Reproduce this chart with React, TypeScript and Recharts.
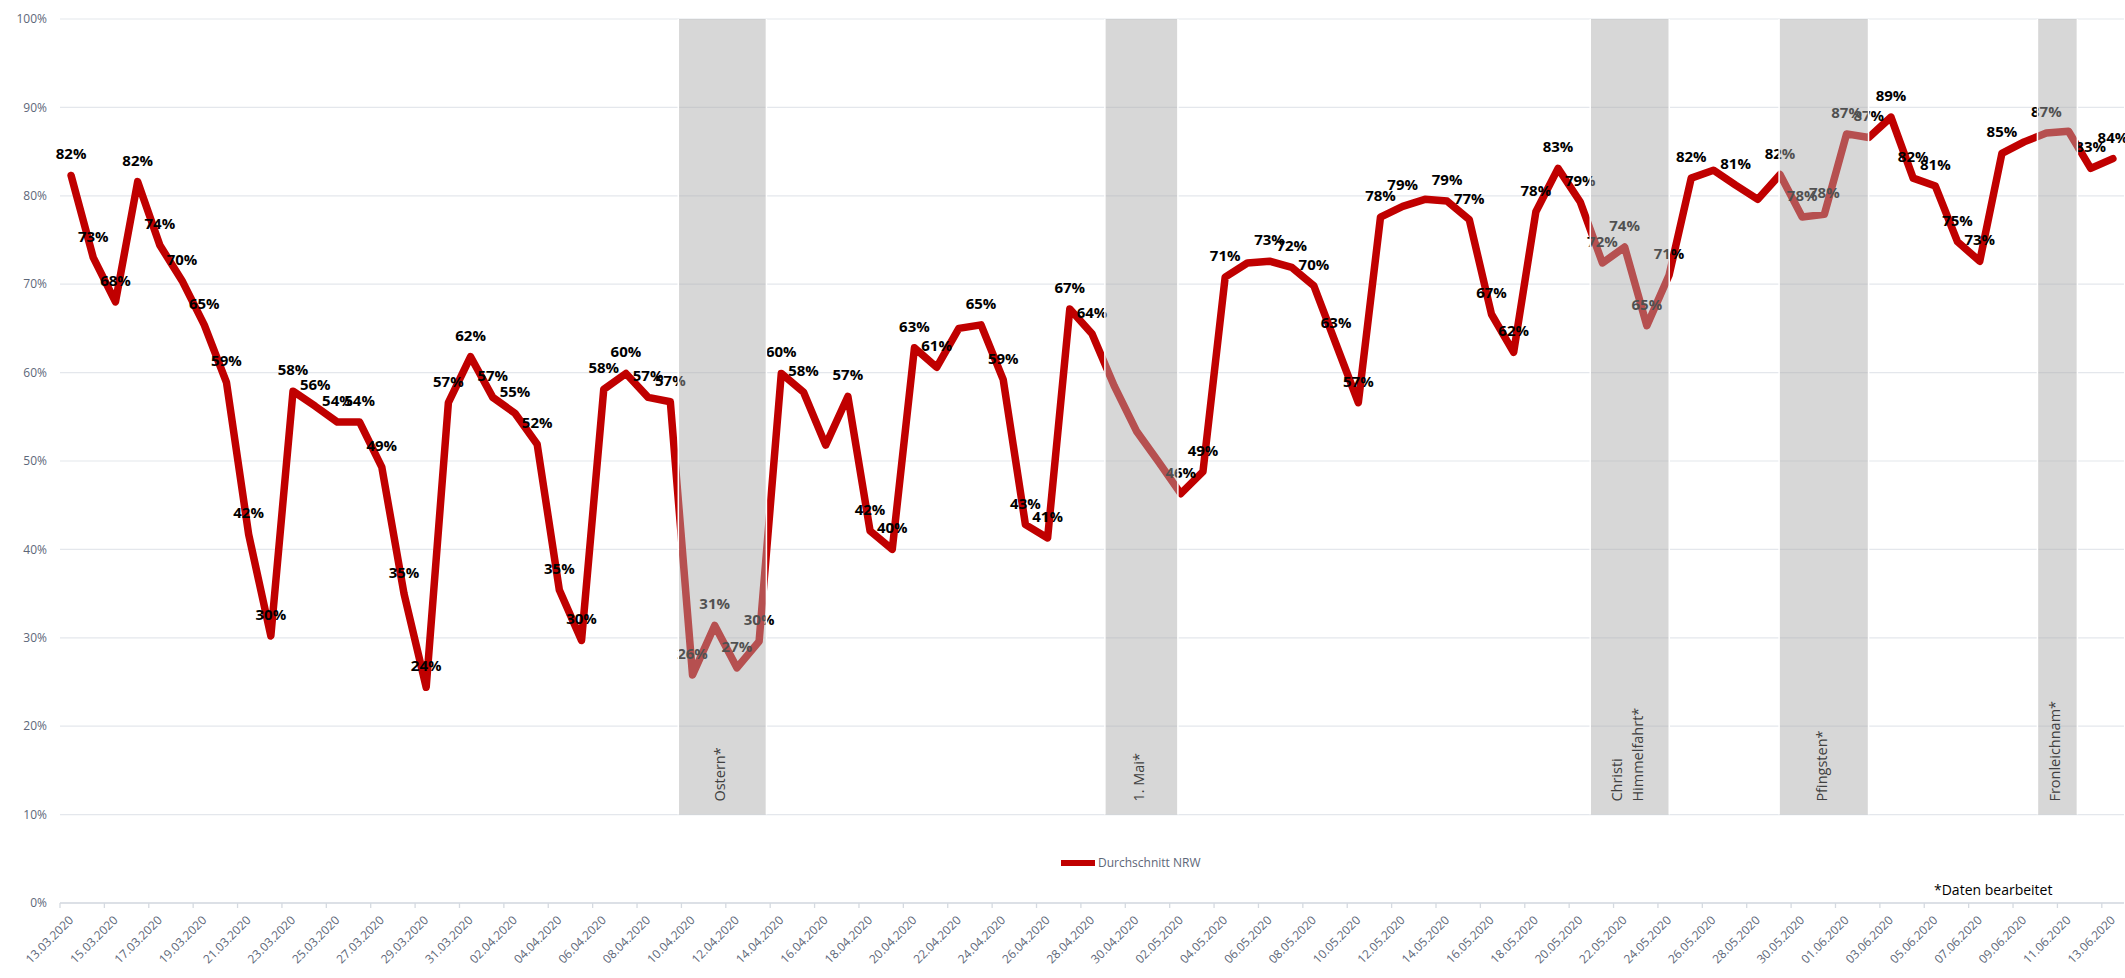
import React from "react";
import {
  CartesianGrid,
  ComposedChart,
  LabelList,
  Line,
  ReferenceArea,
  XAxis,
  YAxis,
} from "recharts";

// one value per day, 13.03.2020 - 13.06.2020
const dates = [
  "13.03.2020", "14.03.2020", "15.03.2020", "16.03.2020", "17.03.2020", "18.03.2020", "19.03.2020",
  "20.03.2020", "21.03.2020", "22.03.2020", "23.03.2020", "24.03.2020", "25.03.2020", "26.03.2020",
  "27.03.2020", "28.03.2020", "29.03.2020", "30.03.2020", "31.03.2020", "01.04.2020", "02.04.2020",
  "03.04.2020", "04.04.2020", "05.04.2020", "06.04.2020", "07.04.2020", "08.04.2020", "09.04.2020",
  "10.04.2020", "11.04.2020", "12.04.2020", "13.04.2020", "14.04.2020", "15.04.2020", "16.04.2020",
  "17.04.2020", "18.04.2020", "19.04.2020", "20.04.2020", "21.04.2020", "22.04.2020", "23.04.2020",
  "24.04.2020", "25.04.2020", "26.04.2020", "27.04.2020", "28.04.2020", "29.04.2020", "30.04.2020",
  "01.05.2020", "02.05.2020", "03.05.2020", "04.05.2020", "05.05.2020", "06.05.2020", "07.05.2020",
  "08.05.2020", "09.05.2020", "10.05.2020", "11.05.2020", "12.05.2020", "13.05.2020", "14.05.2020",
  "15.05.2020", "16.05.2020", "17.05.2020", "18.05.2020", "19.05.2020", "20.05.2020", "21.05.2020",
  "22.05.2020", "23.05.2020", "24.05.2020", "25.05.2020", "26.05.2020", "27.05.2020", "28.05.2020",
  "29.05.2020", "30.05.2020", "31.05.2020", "01.06.2020", "02.06.2020", "03.06.2020", "04.06.2020",
  "05.06.2020", "06.06.2020", "07.06.2020", "08.06.2020", "09.06.2020", "10.06.2020", "11.06.2020",
  "12.06.2020", "13.06.2020",
];

// Durchschnitt NRW, in %
const nrwAverage = [
  82.3, 73.0, 68.0, 81.6, 74.4, 70.4, 65.4, 58.9, 41.7, 30.2,
  57.9, 56.2, 54.4, 54.4, 49.3, 35.0, 24.4, 56.6, 61.8, 57.2,
  55.4, 51.9, 35.4, 29.7, 58.1, 59.9, 57.2, 56.7, 25.8, 31.4,
  26.6, 29.6, 59.9, 57.8, 51.8, 57.3, 42.1, 40.0, 62.8, 60.6,
  65.0, 65.4, 59.2, 42.8, 41.3, 67.2, 64.4, 58.5, 53.4, 49.9,
  46.3, 48.8, 70.8, 72.4, 72.6, 71.9, 69.8, 63.2, 56.6, 77.6,
  78.8, 79.6, 79.4, 77.3, 66.6, 62.3, 78.2, 83.1, 79.3, 72.4,
  74.2, 65.3, 71.0, 82.0, 82.9, 81.2, 79.6, 82.4, 77.6, 77.9,
  87.0, 86.6, 88.9, 82.0, 81.1, 74.8, 72.6, 84.8, 86.1, 87.1,
  87.3, 83.1, 84.2,
];

// days whose data label is not shown in the original
const unlabeledDays = [34, 40, 47, 48, 49, 53, 61, 74, 76, 88, 90];

// every second date gets a tick label
const dateTicks = [
  0, 2, 4, 6, 8, 10, 12, 14, 16, 18, 20, 22, 24, 26, 28, 30, 32, 34, 36, 38, 40, 42, 44, 46,
  48, 50, 52, 54, 56, 58, 60, 62, 64, 66, 68, 70, 72, 74, 76, 78, 80, 82, 84, 86, 88, 90, 92,
];

const percentTicks = [0, 10, 20, 30, 40, 50, 60, 70, 80, 90, 100];

// shaded holiday periods (x in day index units)
const holidays = [
  { lines: ["Ostern*"], from: 27.36, to: 31.33 },
  { lines: ["1. Mai*"], from: 46.58, to: 49.87 },
  { lines: ["Christi", "Himmelfahrt*"], from: 68.45, to: 72.01 },
  { lines: ["Pfingsten*"], from: 76.96, to: 80.99 },
  { lines: ["Fronleichnam*"], from: 88.6, to: 90.4 },
];

const W = 2125;
const H = 978;
const Y_AXIS_W = 60;
const RIGHT = 1;
const TOP = 19;
const X_AXIS_H = 75;
const STEP = (W - Y_AXIS_W - RIGHT) / dates.length;

const FONT = "'Open Sans', 'Noto Sans', sans-serif";
const AXIS_TEXT = "#5D6779";
const RED = "#C00000";

const chartData = dates.map((date, i) => ({ i, date, v: nrwAverage[i] }));

const DateTick = (props: any) => {
  const { x, y, payload } = props;
  const tx = x - STEP / 2;
  return (
    <g>
      <line x1={tx} x2={tx} y1={y} y2={y + 5} stroke="#D5DAE1" strokeWidth={1.3} />
      <text
        transform={`translate(${x + 3},${y + 18}) rotate(-45)`}
        textAnchor="end"
        fontSize={12}
        fontFamily={FONT}
        fill={AXIS_TEXT}
      >
        {dates[payload.value]}
      </text>
    </g>
  );
};

const ValueLabel = (props: any) => {
  const { x, y, value, index } = props;
  if (unlabeledDays.includes(index)) return null;
  return (
    <text
      x={x}
      y={y - 16}
      textAnchor="middle"
      fontSize={15}
      fontWeight={700}
      fontFamily={FONT}
      fill="#000"
    >
      {`${Math.round(value)}%`}
    </text>
  );
};

const HolidayShape = (props: any) => {
  const { x, y, width, height, lines } = props;
  const cx = x + width / 2;
  const bottom = y + height;
  return (
    <g>
      <rect x={x} y={y} width={width} height={height} fill="#AAAAAA" fillOpacity={0.47} />
      <line x1={x} x2={x} y1={y} y2={bottom} stroke="#fff" strokeWidth={1.5} />
      <line x1={x + width} x2={x + width} y1={y} y2={bottom} stroke="#fff" strokeWidth={1.5} />
      {lines.map((t: string, k: number) => {
        const bx = cx + 3 + (k - (lines.length - 1) / 2) * 21;
        return (
          <text
            key={t}
            transform={`translate(${bx},${bottom - 13}) rotate(-90)`}
            textAnchor="start"
            fontSize={14.5}
            fontFamily={FONT}
            fill="#404040"
          >
            {t}
          </text>
        );
      })}
    </g>
  );
};

export default function App() {
  return (
    <div
      style={{
        position: "absolute",
        left: 0,
        top: 0,
        width: W,
        height: H,
        background: "#fff",
        fontFamily: FONT,
      }}
    >
      <div style={{ position: "absolute", left: 0, top: 0 }}>
        <ComposedChart
          width={W}
          height={H}
          data={chartData}
          margin={{ top: TOP, right: RIGHT, left: 0, bottom: 0 }}
        >
          <CartesianGrid vertical={false} stroke="#E4E7EC" strokeWidth={1.2} />
          <XAxis
            dataKey="i"
            type="number"
            domain={[-0.5, dates.length - 0.5]}
            ticks={dateTicks}
            interval={0}
            height={X_AXIS_H}
            tickSize={0}
            tickMargin={0}
            axisLine={{ stroke: "#D5DAE1", strokeWidth: 1.3 }}
            tickLine={false}
            tick={<DateTick />}
          />
          <YAxis
            type="number"
            domain={[0, 100]}
            ticks={percentTicks}
            width={Y_AXIS_W}
            axisLine={false}
            tickLine={false}
            tickSize={0}
            tickMargin={13}
            tickFormatter={(v: number) => `${v}%`}
            tick={{ fontSize: 12, fill: AXIS_TEXT, fontFamily: FONT }}
          />
          <Line
            dataKey="v"
            type="linear"
            stroke={RED}
            strokeWidth={7.5}
            strokeLinejoin="round"
            strokeLinecap="round"
            dot={false}
            activeDot={false}
            isAnimationActive={false}
          >
            <LabelList dataKey="v" content={<ValueLabel />} />
          </Line>
        </ComposedChart>
      </div>

      {/* holiday overlay drawn on top of the line and labels */}
      <div style={{ position: "absolute", left: 0, top: 0, pointerEvents: "none" }}>
        <ComposedChart
          width={W}
          height={H}
          data={chartData}
          margin={{ top: TOP, right: RIGHT, left: Y_AXIS_W, bottom: X_AXIS_H }}
        >
          <XAxis dataKey="i" type="number" domain={[-0.5, dates.length - 0.5]} hide allowDataOverflow />
          <YAxis type="number" domain={[0, 100]} hide allowDataOverflow />
          {holidays.map((h) => (
            <ReferenceArea
              key={h.lines.join(" ")}
              x1={h.from}
              x2={h.to}
              y1={10}
              y2={100}
              ifOverflow="visible"
              shape={(p: any) => <HolidayShape {...p} lines={h.lines} />}
            />
          ))}
        </ComposedChart>
      </div>

      <div
        style={{
          position: "absolute",
          left: 1061,
          top: 854,
          display: "flex",
          alignItems: "center",
          fontSize: 12,
          color: AXIS_TEXT,
        }}
      >
        <span style={{ display: "inline-block", width: 34, height: 6, background: RED, marginRight: 3 }} />
        <span>Durchschnitt NRW</span>
      </div>

      <div style={{ position: "absolute", left: 1934, top: 880, fontSize: 14, color: "#000" }}>
        *Daten bearbeitet
      </div>
    </div>
  );
}
